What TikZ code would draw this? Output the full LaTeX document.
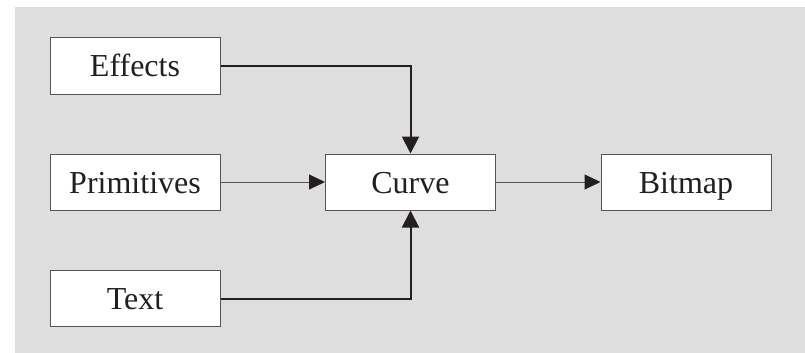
\documentclass[tikz,border=0pt]{standalone}
\usepackage{fontspec}
\setmainfont{Liberation Serif}
\usetikzlibrary{arrows.meta}
\definecolor{bg}{HTML}{DEDEDE}
\definecolor{ink}{HTML}{231F20}
\definecolor{edge}{HTML}{555555}
\tikzset{
  box/.style={draw=edge, line width=1pt, fill=white, minimum width=170pt, minimum height=56pt, inner sep=0pt, text height=26pt, text depth=4pt, font=\fontsize{32pt}{36pt}\selectfont, text=ink},
  thinlink/.style={draw=edge, line width=1pt, -{Triangle[length=16pt,width=15pt,color=ink,fill=ink]}},
  thicklink/.style={draw=ink, line width=2pt, -{Triangle[length=17pt,width=17pt]}}
}
\begin{document}
\begin{tikzpicture}[x=1pt,y=-1pt]
\useasboundingbox (0,0) rectangle (805,353);
\fill[bg] (15,7) rectangle (805,353);
\node[box] (eff) at (135,66) {Effects};
\node[box] (prim) at (135,182) {Primitives};
\node[box] (txt) at (135,298.5) {Text};
\node[box] (curve) at (410.5,182) {Curve};
\node[box] (bmp) at (686,182) {Bitmap};
\draw[thicklink] (eff.east) -| (curve.north);
\draw[thicklink] (txt.east) -| (curve.south);
\draw[thinlink] (prim.east) -- (curve.west);
\draw[thinlink] (curve.east) -- (bmp.west);
\end{tikzpicture}
\end{document}
